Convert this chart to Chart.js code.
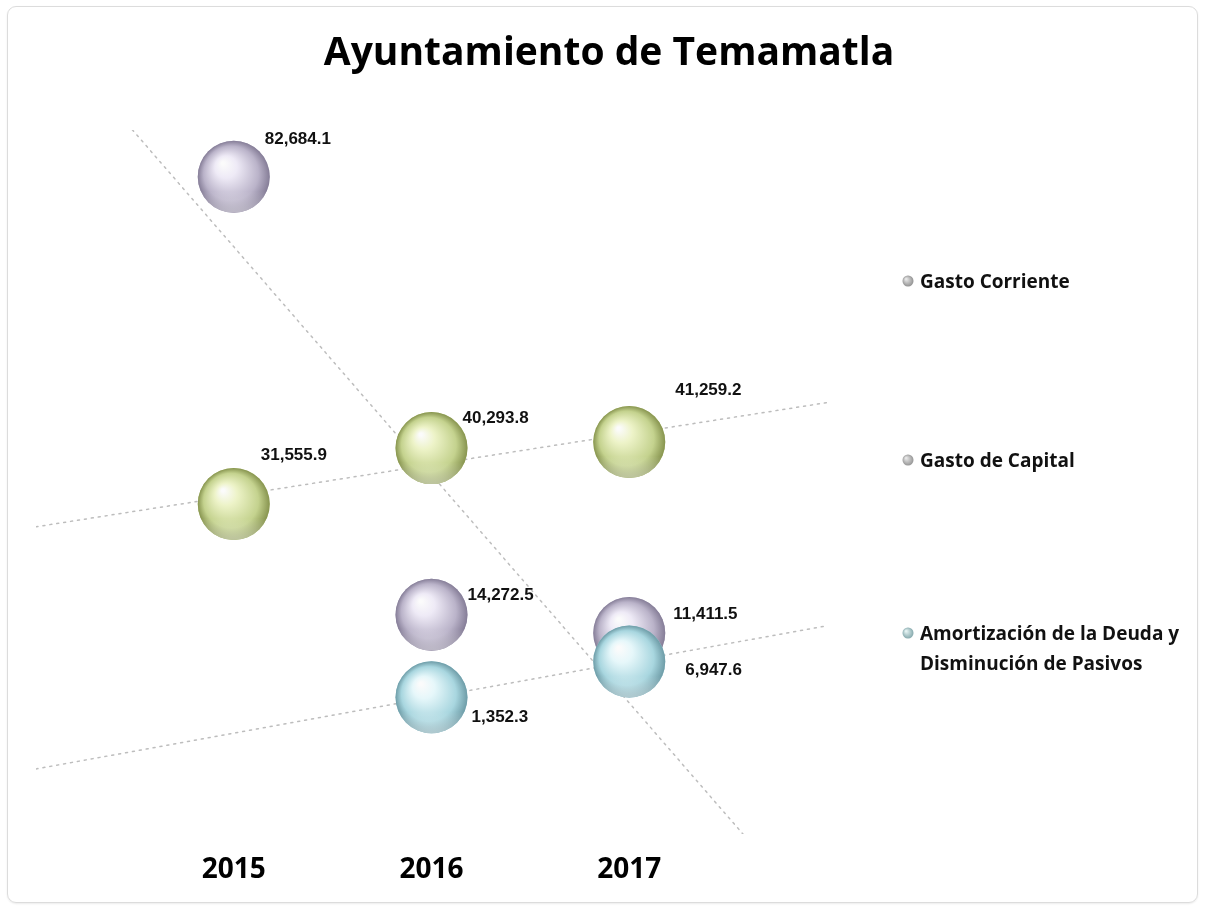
<!DOCTYPE html>
<html>
<head>
<meta charset="utf-8">
<script src="https://cdn.jsdelivr.net/npm/chart.js@4/dist/chart.umd.min.js"></script>
<style>
  html, body { margin: 0; padding: 0; background: #fff; }
  #wrap { position: relative; width: 1205px; height: 907px; }
  #frame { position: absolute; left: 7px; top: 6px; width: 1191px; height: 897px; box-sizing: border-box;
           border: 1px solid #dcdcdc; border-radius: 9px; box-shadow: 0 1px 2px rgba(0,0,0,0.08); }
  #chart { position: absolute; left: 0; top: 0; }
</style>
</head>
<body>
<div id="wrap">
  <div id="frame"></div>
  <canvas id="chart" width="1205" height="907"></canvas>
</div>
<script>
const years = [2015, 2016, 2017];
const gastoCorriente = [82684.1, 14272.5, 11411.5];
const gastoCapital = [31555.9, 40293.8, 41259.2];
const amortizacion = [null, 1352.3, 6947.6];
const seriesLabels = ['Gasto Corriente', 'Gasto de Capital', 'Amortización de la Deuda y Disminución de Pasivos'];
const legendLines = [['Gasto Corriente'], ['Gasto de Capital'], ['Amortización de la Deuda y', 'Disminución de Pasivos']];

const R = 36;
const xMin = 2014, xMax = 2018;

// label offsets from bubble centre (left edge, middle)
const labelOffsets = [
  [[31, -38], [36, -19], [44, -19]],
  [[27, -49], [31, -30], [46, -52]],
  [[0, 0], [40, 20], [56, 9]]
];
const legendY = [281, 460, 633];

const palette = [
  { base: '#bab3c9', light: '#eeeaf6', dark: '#857d97', legend: ['#e8e8e8', '#8c8c8c'] },
  { base: '#c4d28e', light: '#edf3c8', dark: '#87944f', legend: ['#e8e8e8', '#909090'] },
  { base: '#a8d6df', light: '#e6f7fa', dark: '#6e9ca7', legend: ['#e6f4f4', '#7fa4a8'] }
];

function points(vals) {
  return years.map((x, i) => ({ x: x, y: vals[i] }));
}

function trend(vals) {
  const pts = points(vals).filter(p => p.y != null);
  const mx = pts.reduce((s, p) => s + p.x, 0) / pts.length;
  const my = pts.reduce((s, p) => s + p.y, 0) / pts.length;
  let num = 0, den = 0;
  pts.forEach(p => { num += (p.x - mx) * (p.y - my); den += (p.x - mx) * (p.x - mx); });
  const m = num / den, b = my - m * mx;
  return [{ x: xMin, y: b + m * xMin }, { x: xMax, y: b + m * xMax }];
}

const seriesValues = [gastoCorriente, gastoCapital, amortizacion];
const bubbleOrder = [3, 2, 1];

const datasets = [];
seriesValues.forEach((vals, i) => {
  datasets.push({
    type: 'bubble',
    label: seriesLabels[i],
    data: points(vals),
    radius: R,
    borderWidth: 0,
    backgroundColor: palette[i].base,
    order: bubbleOrder[i],
    shade: palette[i]
  });
});
seriesValues.forEach((vals, i) => {
  datasets.push({
    type: 'line',
    label: 'trend ' + seriesLabels[i],
    data: trend(vals),
    borderColor: '#bdbdbd',
    borderWidth: 1.5,
    borderDash: [2, 5],
    borderCapStyle: 'round',
    pointRadius: 0,
    fill: false,
    order: 10
  });
});

const fmt = v => v.toLocaleString('en-US', { minimumFractionDigits: 1, maximumFractionDigits: 1 });

// paints each bubble as a shaded sphere right after its dataset is drawn
const sphereLook = {
  id: 'sphereLook',
  afterDatasetDraw(chart, args) {
    const ds = chart.data.datasets[args.index];
    if (ds.type !== 'bubble') return;
    const ctx = chart.ctx;
    const col = ds.shade;
    args.meta.data.forEach((el, i) => {
      if (ds.data[i].y == null || !isFinite(el.x) || !isFinite(el.y)) return;
      const x = el.x, y = el.y;
      ctx.save();
      ctx.beginPath();
      ctx.arc(x, y, R, 0, Math.PI * 2);
      const g = ctx.createRadialGradient(x - R * 0.3, y - R * 0.38, R * 0.04, x, y, R);
      g.addColorStop(0, '#fbfbfb');
      g.addColorStop(0.28, col.light);
      g.addColorStop(0.75, col.base);
      g.addColorStop(1, col.dark);
      ctx.fillStyle = g;
      ctx.fill();
      ctx.clip();
      const g2 = ctx.createLinearGradient(0, y + R * 0.4, 0, y + R);
      g2.addColorStop(0, 'rgba(255,255,255,0)');
      g2.addColorStop(1, 'rgba(255,255,255,0.45)');
      ctx.fillStyle = g2;
      ctx.fillRect(x - R, y, 2 * R, R);
      ctx.restore();
    });
  }
};

const decor = {
  id: 'decor',
  afterDatasetsDraw(chart) {
    const ctx = chart.ctx;
    ctx.save();
    // value labels
    ctx.font = 'bold 17px "Liberation Sans", Arial, sans-serif';
    ctx.fillStyle = '#111';
    ctx.textAlign = 'left';
    ctx.textBaseline = 'middle';
    chart.data.datasets.forEach((ds, di) => {
      if (ds.type !== 'bubble') return;
      const meta = chart.getDatasetMeta(di);
      meta.data.forEach((el, i) => {
        const v = ds.data[i].y;
        if (v == null) return;
        const off = labelOffsets[di][i];
        ctx.fillText(fmt(v), el.x + off[0], el.y + off[1]);
      });
    });
    // title
    ctx.font = 'bold 39px "Open Sans", Lato, sans-serif';
    ctx.textAlign = 'center';
    ctx.textBaseline = 'alphabetic';
    ctx.fillStyle = '#000';
    ctx.fillText('Ayuntamiento de Temamatla', 609, 65);
    // legend
    ctx.font = 'bold 19px "Open Sans", Lato, sans-serif';
    ctx.textAlign = 'left';
    legendLines.forEach((lines, i) => {
      const y = legendY[i];
      const g = ctx.createRadialGradient(906, y - 2, 0.5, 908, y, 6);
      g.addColorStop(0, palette[i].legend[0]);
      g.addColorStop(1, palette[i].legend[1]);
      ctx.fillStyle = g;
      ctx.beginPath();
      ctx.arc(908, y, 5.5, 0, Math.PI * 2);
      ctx.fill();
      ctx.fillStyle = '#111';
      lines.forEach((t, k) => ctx.fillText(t, 920, y + 7 + k * 30));
    });
    ctx.restore();
  }
};

new Chart(document.getElementById('chart').getContext('2d'), {
  type: 'bubble',
  data: { datasets: datasets },
  options: {
    responsive: false,
    animation: false,
    events: [],
    layout: { padding: { left: 35, right: 378, top: 130, bottom: 0 } },
    plugins: {
      legend: { display: false },
      title: { display: false },
      tooltip: { enabled: false }
    },
    scales: {
      x: {
        type: 'linear',
        min: xMin,
        max: xMax,
        afterBuildTicks: s => { s.ticks = years.map(v => ({ value: v })); },
        afterFit: s => { s.height = 73; },
        grid: { display: false, drawTicks: false },
        border: { display: false },
        ticks: {
          padding: 19,
          autoSkip: false,
          maxRotation: 0,
          color: '#000',
          font: { family: '"Open Sans", Lato, sans-serif', size: 28, weight: 'bold' },
          callback: v => String(v)
        }
      },
      y: {
        type: 'linear',
        min: -20000,
        max: 90000,
        display: false
      }
    }
  },
  plugins: [sphereLook, decor]
});
</script>
</body>
</html>
